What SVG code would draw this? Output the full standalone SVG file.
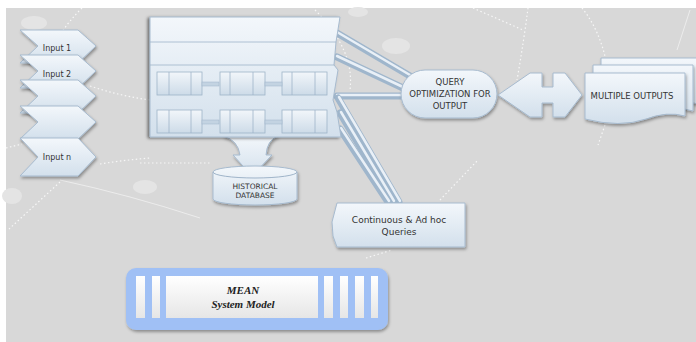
<svg xmlns="http://www.w3.org/2000/svg" width="696" height="342" viewBox="0 0 696 342">
<defs>
<linearGradient id="gBox" x1="0" y1="0" x2="0" y2="1">
<stop offset="0" stop-color="#f3f7fb"/><stop offset="1" stop-color="#d3e0ec"/>
</linearGradient>
<linearGradient id="gBlk" x1="0" y1="0" x2="0" y2="1">
<stop offset="0" stop-color="#f2f6fa"/><stop offset="1" stop-color="#cddbe8"/>
</linearGradient>
<linearGradient id="gBar" x1="0" y1="0" x2="0" y2="1">
<stop offset="0" stop-color="#ffffff"/><stop offset="1" stop-color="#e6e6e6"/>
</linearGradient>
<filter id="sh" x="-20%" y="-20%" width="140%" height="150%">
<feDropShadow dx="1" dy="2" stdDeviation="1.5" flood-color="#000" flood-opacity="0.35"/>
</filter>
<filter id="shl" x="-20%" y="-20%" width="140%" height="150%">
<feDropShadow dx="-2" dy="1" stdDeviation="1.5" flood-color="#000" flood-opacity="0.5"/>
</filter>
<path id="chev" d="M0,0 H58 L76,16 L58,33 H0 L18,16 Z"/>
<path id="chevn" d="M0,0 H58 L76,19 L58,38 H0 L18,19 Z"/>
</defs>
<style>
.node{fill:url(#gBox);stroke:#a7bbcf;stroke-width:1}
.blk{fill:url(#gBlk);stroke:#9fb4c9;stroke-width:0.8}
.div{stroke:#9fb4c9;stroke-width:0.8}
.t{font-family:"DejaVu Sans","Liberation Sans",sans-serif;fill:#333;text-anchor:middle}
.tube{stroke:#9fb6cc;stroke-width:7;stroke-linecap:round;fill:none}
.tubeh{stroke:#e9f0f7;stroke-width:2.5;stroke-linecap:round;fill:none}
.dot{fill:none;stroke:#fff;stroke-width:1.2;stroke-dasharray:1.5 2.5;opacity:0.8}
.spot{fill:#e4e4e4}
.bar{fill:url(#gBar)}
</style>
<rect x="0" y="0" width="696" height="342" fill="#ffffff"/>
<rect x="6" y="8" width="690" height="334" fill="#d8d8d8"/>
<g id="decor">
<ellipse class="spot" cx="34" cy="23" rx="13" ry="7"/>
<ellipse class="spot" cx="145" cy="187" rx="12" ry="7"/>
<ellipse class="spot" cx="12" cy="196" rx="10" ry="8"/>
<ellipse class="spot" cx="396" cy="46" rx="14" ry="8"/>
<ellipse class="spot" cx="358" cy="12" rx="10" ry="5"/>
<path class="dot" d="M82,8 Q70,20 62,32"/>
<path class="dot" d="M90,86 Q120,96 150,100"/>
<path class="dot" d="M100,164 Q125,160 150,158"/>
<path class="dot" d="M140,163 L212,163"/>
<path class="dot" d="M60,182 L8,230"/>
<path class="dot" d="M6,148 Q14,146 22,144"/>
<path class="dot" d="M315,10 Q355,50 350,90"/>
<path class="dot" d="M473,8 L523,30"/>
<path class="dot" d="M528,8 Q524,40 517,80"/>
<path class="dot" d="M582,8 Q600,30 607,65"/>
<path class="dot" d="M605,125 L598,145"/>
<path class="dot" d="M440,200 L478,160"/>
<path class="dot" d="M366,258 L392,250"/>
<path d="M60,180 Q130,195 200,218" fill="none" stroke="#fff" stroke-width="1" opacity="0.5"/>
<path d="M690,10 L677,50" fill="none" stroke="#fff" stroke-width="1" opacity="0.5"/>
</g>
<g id="connectors">
<path class="tube" d="M337,33 L410,76"/><path class="tubeh" d="M337,32 L410,75"/>
<path class="tube" d="M337,57 L403,88"/><path class="tubeh" d="M337,56 L403,87"/>
<path class="tube" d="M337,96 L402,96"/><path class="tubeh" d="M337,95 L402,95"/>
<path class="tube" d="M338,98 L399,202"/><path class="tubeh" d="M339,97 L400,201"/>
<path class="tube" d="M340,113 L393,202"/><path class="tubeh" d="M341,112 L394,201"/>
<path class="tube" d="M340,129 L388,202"/><path class="tubeh" d="M341,128 L389,201"/>
</g>
<g id="input-1"><use href="#chev" transform="translate(20,30)" class="node" filter="url(#sh)"/><text class="t" x="57" y="51" font-size="8">Input 1</text></g>
<g id="input-2"><use href="#chev" transform="translate(20,55)" class="node" filter="url(#sh)"/><text class="t" x="57" y="77" font-size="8">Input 2</text></g>
<g id="input-3"><use href="#chev" transform="translate(20,80)" class="node" filter="url(#sh)"/></g>
<g id="input-4"><use href="#chev" transform="translate(20,106)" class="node" filter="url(#sh)"/></g>
<g id="input-n"><use href="#chevn" transform="translate(20,138)" class="node" filter="url(#sh)"/><text class="t" x="57" y="160" font-size="8">Input n</text></g>
<g id="db-arrow">
<path class="node" filter="url(#sh)" d="M223,136 Q238,140 240,155 L233,155 L252,176 L272,155 L266,155 Q267,140 278,136 Z"/>
</g>
<g id="main-box">
<path class="node" filter="url(#shl)" d="M150,17 L340,17 L336,42 L334,65 L338,70 L333,100 L337,112 L341,137 L150,137 Z"/>
<line class="div" x1="150" y1="42" x2="336" y2="42"/>
<line class="div" x1="150" y1="65" x2="334" y2="65"/>
<g id="blocks">
<g id="row-a">
<rect class="blk" x="157" y="72" width="45" height="23"/><line class="div" x1="169" y1="72" x2="169" y2="95"/><line class="div" x1="191" y1="72" x2="191" y2="95"/>
<rect class="blk" x="220" y="72" width="45" height="23"/><line class="div" x1="230" y1="72" x2="230" y2="95"/><line class="div" x1="253" y1="72" x2="253" y2="95"/>
<rect class="blk" x="282" y="72" width="45" height="23"/><line class="div" x1="292" y1="72" x2="292" y2="95"/><line class="div" x1="315" y1="72" x2="315" y2="95"/>
<rect x="202" y="82" width="17" height="4" fill="#c3d3e2" stroke="#9fb4c9" stroke-width="0.5"/>
<rect x="265" y="82" width="17" height="4" fill="#c3d3e2" stroke="#9fb4c9" stroke-width="0.5"/>
</g>
<g id="row-b">
<rect class="blk" x="157" y="110" width="45" height="23"/><line class="div" x1="169" y1="110" x2="169" y2="133"/><line class="div" x1="191" y1="110" x2="191" y2="133"/>
<rect class="blk" x="220" y="110" width="45" height="23"/><line class="div" x1="230" y1="110" x2="230" y2="133"/><line class="div" x1="253" y1="110" x2="253" y2="133"/>
<rect class="blk" x="282" y="110" width="45" height="23"/><line class="div" x1="292" y1="110" x2="292" y2="133"/><line class="div" x1="315" y1="110" x2="315" y2="133"/>
<rect x="202" y="120" width="17" height="4" fill="#c3d3e2" stroke="#9fb4c9" stroke-width="0.5"/>
<rect x="265" y="120" width="17" height="4" fill="#c3d3e2" stroke="#9fb4c9" stroke-width="0.5"/>
</g>
</g>
</g>
<g id="historical-database">
<path class="node" filter="url(#sh)" d="M213,172 A42,6 0 0 1 297,172 L297,199 A42,6 0 0 1 213,199 Z"/>
<path d="M213,172 A42,6 0 0 0 297,172" fill="none" stroke="#9fb4c9"/>
<text class="t" x="255" y="189" font-size="7.5">HISTORICAL</text>
<text class="t" x="255" y="198" font-size="7.5">DATABASE</text>
</g>
<g id="query-optimization">
<rect class="node" filter="url(#sh)" x="401" y="70" width="96" height="48" rx="24" ry="24"/>
<text class="t" x="450" y="85" font-size="8.5">QUERY</text>
<text class="t" x="450" y="97" font-size="8.5">OPTIMIZATION FOR</text>
<text class="t" x="450" y="109" font-size="8.5">OUTPUT</text>
</g>
<g id="double-arrow">
<path class="node" filter="url(#sh)" d="M498,95 L530,73 L542,73 L542,87 L553,87 L553,73 L565,73 L582,95 L565,117 L553,117 L553,103 L542,103 L542,117 L530,117 Z"/>
</g>
<g id="multiple-outputs">
<path class="node" filter="url(#sh)" d="M601,58 H698 V104 Q680,98 660,106 Q635,116 601,106 Z"/>
<path class="node" filter="url(#sh)" d="M593,65 H693 V111 Q675,105 655,113 Q630,123 593,113 Z"/>
<path class="node" filter="url(#sh)" d="M585,73 H685 V116 Q667,111 646,119 Q620,128 585,119 Z"/>
<text class="t" x="632" y="99" font-size="8.5">MULTIPLE OUTPUTS</text>
</g>
<g id="continuous-queries">
<path class="node" filter="url(#sh)" d="M337,203 H465 V247 H337 L333,236 L332,222 Z"/>
<text class="t" x="399" y="223" font-size="9">Continuous &amp; Ad hoc</text>
<text class="t" x="399" y="235" font-size="9">Queries</text>
</g>
<g id="mean-system-model">
<rect x="126" y="268" width="262" height="62" rx="10" ry="10" fill="#a0c0f5" filter="url(#sh)"/>
<rect class="bar" x="136" y="276" width="9" height="42"/>
<rect class="bar" x="152" y="276" width="8" height="42"/>
<rect class="bar" x="166" y="276" width="152" height="42"/>
<rect class="bar" x="324" y="276" width="9" height="42"/>
<rect class="bar" x="340" y="276" width="8" height="42"/>
<rect class="bar" x="355" y="276" width="9" height="42"/>
<rect class="bar" x="371" y="276" width="7" height="42"/>
<text x="243" y="294" font-family="'Liberation Serif',serif" font-weight="bold" font-style="italic" font-size="11" fill="#222" text-anchor="middle">MEAN</text>
<text x="243" y="308" font-family="'Liberation Serif',serif" font-weight="bold" font-style="italic" font-size="11" fill="#222" text-anchor="middle">System Model</text>
</g>
</svg>
